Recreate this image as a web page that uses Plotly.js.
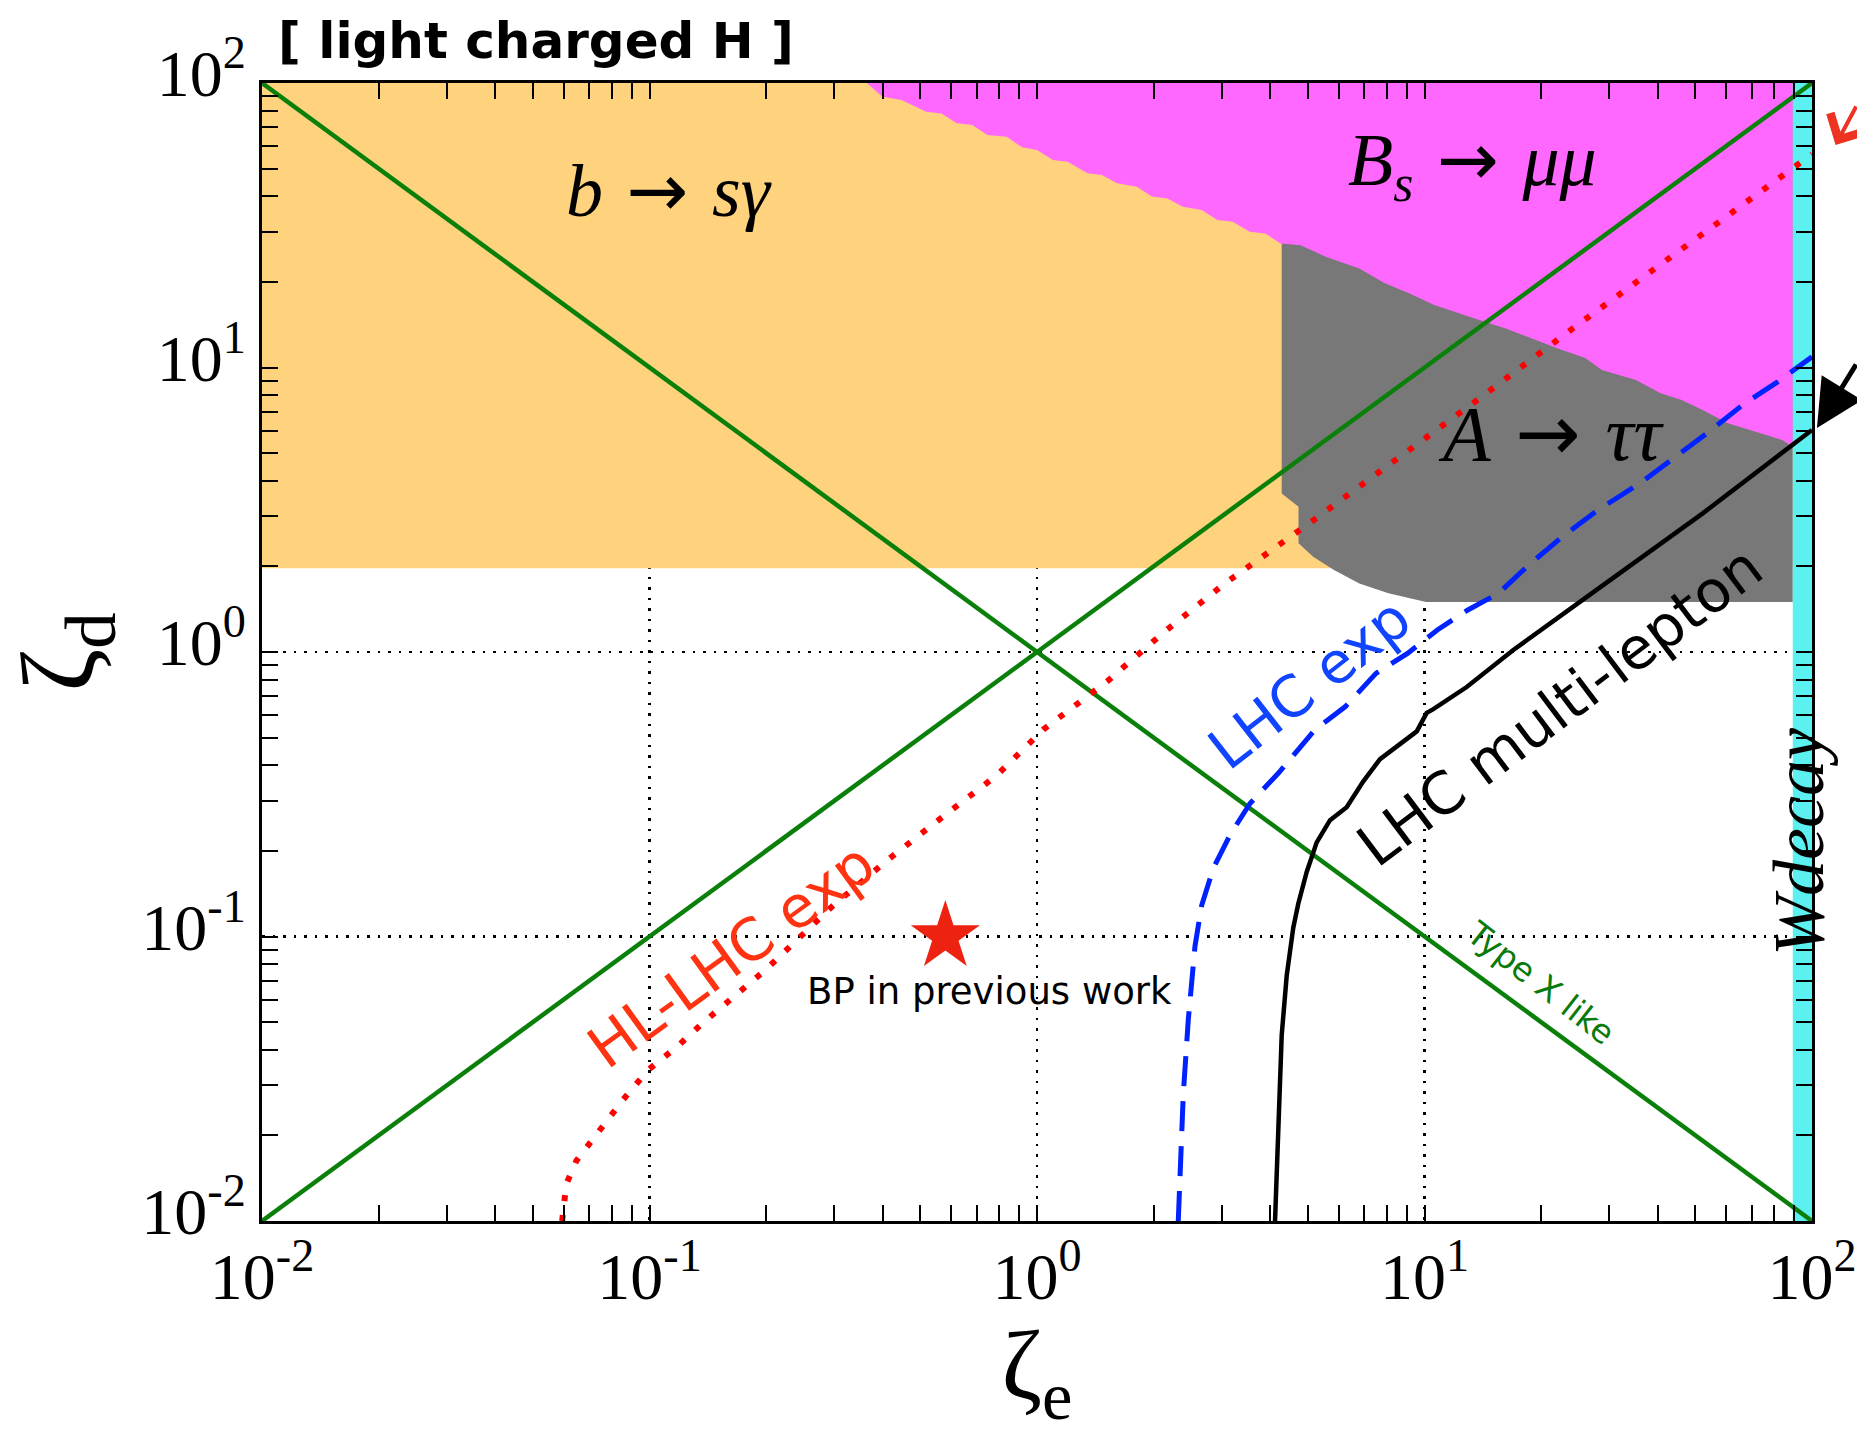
<!DOCTYPE html>
<html><head><meta charset="utf-8">
<script src="https://cdn.plot.ly/plotly-3.0.1.min.js"></script>
<style>html,body{margin:0;padding:0;background:#fff;}</style>
</head><body><div id="chart" style="width:1857px;height:1434px;"></div>
<script>
// ---- axis ticks ----
const decadeVals = [0.01, 0.1, 1, 10, 100];
const decadeText = ['10<sup>-2</sup>', '10<sup>-1</sup>', '10<sup>0</sup>', '10<sup>1</sup>', '10<sup>2</sup>'];
const minorMult = [2, 3, 4, 5, 6, 7, 8, 9];

// ---- excluded regions ----
const bsgX = [0.01, 89.2, 89.2, 0.01];
const bsgY = [1.97, 1.97, 100, 100];

const attX = [4.28, 89.2, 89.2, 10.1, 8.07, 6.79, 5.84, 5.16, 4.73, 4.73, 4.28];
const attY = [100, 100, 1.5, 1.5, 1.61, 1.74, 1.94, 2.16, 2.41, 3.24, 3.61];

const bsmmX = [0.364, 0.399, 0.447, 0.518, 0.567, 0.621, 0.681, 0.745, 0.835, 0.915, 1.00, 1.10, 1.20, 1.35, 1.47, 1.61, 1.81, 1.98, 2.17, 2.38, 2.66, 2.92, 3.20, 3.54, 3.88, 4.25, 4.79, 5.56, 6.79, 7.88, 9.15, 10.6, 13.0, 16.2, 18.8, 21.9, 26.0, 28.7, 35.1, 40.7, 46.1, 52.2, 60.7, 74.0, 83.8, 89.2, 89.2];
const bsmmY = [100, 89.5, 87.2, 79.3, 78.2, 72.2, 71.2, 65.7, 64.7, 59.4, 58.2, 53.6, 52.9, 48.2, 47.5, 44.4, 43.2, 39.9, 39.3, 36.7, 35.8, 33.0, 32.5, 30.0, 29.6, 27.3, 26.9, 24.5, 22.3, 19.8, 18.2, 16.6, 15.1, 13.7, 12.7, 11.7, 10.8, 9.80, 9.04, 8.12, 7.69, 7.09, 6.37, 5.87, 5.56, 5.27, 100];

const wdecX = [89.2, 100, 100, 89.2];
const wdecY = [0.01, 0.01, 100, 100];

// ---- lines ----
const typeIIX = [0.01, 100];
const typeIIY = [0.01, 100];
const typeXX = [0.01, 100];
const typeXY = [100, 0.01];

const hllhcX = [0.0595, 0.0610, 0.0648, 0.0732, 0.0851, 0.0991, 0.119, 0.138, 0.199, 0.295, 0.412, 0.558, 0.790, 1.04, 1.52, 2.12, 3.05, 4.91, 7.88, 13.8, 24.1, 42.3, 74.6, 100];
const hllhcY = [0.0100, 0.0135, 0.0163, 0.0204, 0.0265, 0.0339, 0.0415, 0.0500, 0.0762, 0.127, 0.186, 0.257, 0.370, 0.535, 0.790, 1.17, 1.74, 2.76, 4.42, 7.75, 13.7, 24.0, 42.3, 56.2];

const lhcX = [2.315, 2.385, 2.457, 2.557, 2.661, 2.851, 3.148, 3.545, 4.188, 4.564, 5.21, 6.25, 7.096, 7.495, 9.04, 10.79, 12.94, 15.52, 18.72, 22.97, 28.04, 35.96, 43.88, 53.56, 67.0, 81.7, 100];
const lhcY = [0.01, 0.0279, 0.0509, 0.0926, 0.1288, 0.1738, 0.2274, 0.2935, 0.374, 0.4276, 0.532, 0.643, 0.776, 0.841, 0.989, 1.195, 1.405, 1.608, 2.039, 2.578, 3.156, 3.917, 4.795, 5.87, 7.48, 8.92, 10.9];

const multiX = [4.114, 4.195, 4.281, 4.41, 4.586, 4.725, 4.966, 5.27, 5.704, 6.298, 6.952, 7.677, 9.175, 9.55, 10.13, 10.54, 12.85, 16.95, 25.6, 31.77, 38.56, 52.24, 100];
const multiY = [0.01, 0.0207, 0.0451, 0.0729, 0.1076, 0.1307, 0.1686, 0.2142, 0.2564, 0.2847, 0.3512, 0.4202, 0.5026, 0.526, 0.611, 0.6295, 0.753, 1.016, 1.524, 1.890, 2.283, 3.072, 6.03];

const bpX = [0.58];
const bpY = [0.1];

// ---- build ----
const minorVals = [];
decadeVals.slice(0, -1).forEach(d => minorMult.forEach(m => minorVals.push(d * m)));

function region(x, y, color) {
  return {x: x, y: y, type: 'scatter', mode: 'lines', fill: 'toself', fillcolor: color,
          line: {width: 0, color: color}, hoverinfo: 'skip', showlegend: false};
}
function curve(x, y, color, width, dash) {
  return {x: x, y: y, type: 'scatter', mode: 'lines', line: {color: color, width: width, dash: dash},
          hoverinfo: 'skip', showlegend: false};
}

const traces = [
  region(bsgX, bsgY, '#FFD27E'),
  region(attX, attY, '#787878'),
  region(bsmmX, bsmmY, '#FF68FF'),
  region(wdecX, wdecY, '#5CF0F0'),
  curve(typeIIX, typeIIY, '#0A800A', 4.5, 'solid'),
  curve(typeXX, typeXY, '#0A800A', 4.5, 'solid'),
  curve(hllhcX, hllhcY, '#FF0000', 6, '6px,14px'),
  curve(lhcX, lhcY, '#0022FF', 5, '30px,15px'),
  curve(multiX, multiY, '#000000', 4.5, 'solid'),
  {x: bpX, y: bpY, type: 'scatter', mode: 'markers',
   marker: {symbol: 'star', size: 52, color: '#EE2211', line: {width: 0}},
   hoverinfo: 'skip', showlegend: false}
];

const tickFont = {family: 'Liberation Serif', size: 66, color: '#000'};
const axisCommon = {
  type: 'log', range: [-2, 2], autorange: false,
  tickmode: 'array', tickvals: decadeVals, ticktext: decadeText,
  ticks: 'inside', ticklen: 16, tickwidth: 2, tickcolor: '#000',
  showline: true, linewidth: 3, linecolor: '#000', mirror: 'allticks',
  showgrid: true, gridcolor: '#000', gridwidth: 2.5, griddash: '2.5px,8px',
  tickfont: tickFont, zeroline: false, layer: 'above traces',
  minor: {tickmode: 'array', tickvals: minorVals, ticks: 'inside', ticklen: 16, tickwidth: 2, tickcolor: '#000', showgrid: false}
};

const sans = 'DejaVu Sans';
const serif = 'Liberation Serif';
const L = Math.log10;
const ARROW = '<span style="font-family:DejaVu Sans"> → </span>';

const annotations = [
  {x: L(0.1123), y: L(42.2), xref: 'x', yref: 'y', showarrow: false,
   text: '<i>b</i>' + ARROW + '<i>sγ</i>', font: {family: serif, size: 74, color: '#000'}},
  {x: L(13.3), y: L(52.1), xref: 'x', yref: 'y', showarrow: false,
   text: '<i>B</i><sub><i>s</i></sub>' + ARROW + '<i>μμ</i>', font: {family: serif, size: 74, color: '#000'}},
  {x: L(21.3), y: L(5.89), xref: 'x', yref: 'y', showarrow: false,
   text: '<i>A</i>' + ARROW + '<i>ττ</i>', font: {family: serif, size: 78, color: '#000'}},
  {x: L(92.6), y: L(0.215), xref: 'x', yref: 'y', showarrow: false, textangle: -90,
   text: '<i>Wdecay</i>', font: {family: serif, size: 72, color: '#000'}},
  {x: L(0.163), y: L(0.0860), xref: 'x', yref: 'y', showarrow: false, textangle: -36,
   text: 'HL-LHC exp', font: {family: sans, size: 58, color: '#FF3311'}},
  {x: L(5.06), y: L(0.778), xref: 'x', yref: 'y', showarrow: false, textangle: -38,
   text: 'LHC exp', font: {family: sans, size: 57, color: '#1144FF'}},
  {x: L(22.4), y: L(0.645), xref: 'x', yref: 'y', showarrow: false, textangle: -37,
   text: 'LHC multi-lepton', font: {family: sans, size: 58, color: '#000'}},
  {x: L(19.9), y: L(0.0687), xref: 'x', yref: 'y', showarrow: false, textangle: 38,
   text: 'Type X like', font: {family: sans, size: 33, color: '#0A7A0A'}},
  {x: L(0.752), y: L(0.064), xref: 'x', yref: 'y', showarrow: false,
   text: 'BP in previous work', font: {family: sans, size: 37, color: '#000'}},
  // arrows pointing from outside the frame
  {x: 1.0152, y: 0.9455, xref: 'paper', yref: 'paper', text: '', showarrow: true,
   ax: 45, ay: -40, arrowhead: 4, arrowwidth: 4, arrowsize: 1.9, arrowcolor: '#EE3322', standoff: 0},
  {x: 1.0032, y: 0.6968, xref: 'paper', yref: 'paper', text: '', showarrow: true,
   ax: 80, ay: -65, arrowhead: 2, arrowwidth: 5, arrowsize: 1.9, arrowcolor: '#000', standoff: 0}
];

const layout = {
  width: 1857, height: 1434,
  margin: {l: 262, r: 45, t: 83, b: 213},
  paper_bgcolor: '#fff', plot_bgcolor: '#fff',
  showlegend: false,
  title: {text: '[ light charged H ]', font: {family: sans, size: 50, color: '#000', weight: 'bold'},
          x: 278 / 1857, xanchor: 'left', xref: 'container', y: 1 - 40 / 1434, yanchor: 'middle', yref: 'container'},
  xaxis: Object.assign({}, axisCommon, {
    ticklabelstandoff: -4,
    title: {text: 'ζ<sub>e</sub>', font: {family: serif, size: 98, color: '#000'}, standoff: 8}
  }),
  yaxis: Object.assign({}, axisCommon, {
    ticklabelshift: -10,
    title: {text: 'ζ<sub>d</sub>', font: {family: serif, size: 104, color: '#000'}, standoff: 22}
  }),
  annotations: annotations
};

Plotly.newPlot('chart', traces, layout, {staticPlot: true, displayModeBar: false});
</script></body></html>
